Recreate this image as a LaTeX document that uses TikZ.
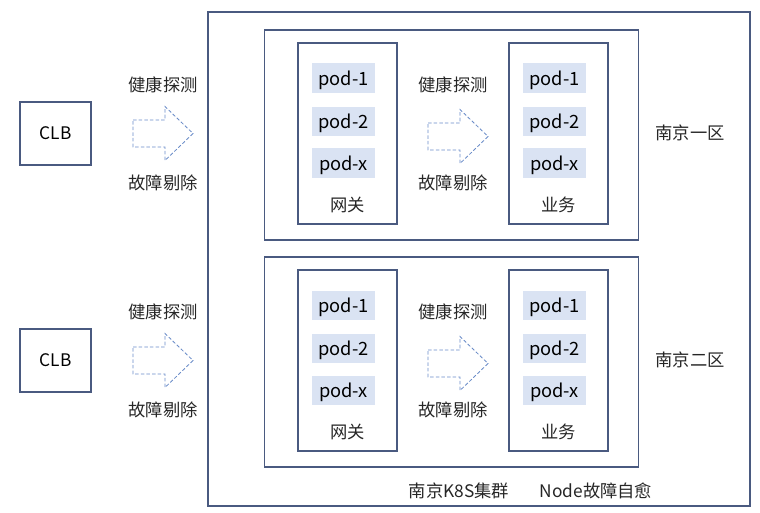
\documentclass[tikz,border=0pt]{standalone}
\usepackage{fontspec}
\setmainfont{Noto Sans CJK SC}
\usetikzlibrary{positioning}

\definecolor{boxline}{HTML}{4A5A80}
\definecolor{arrowline}{HTML}{6A8CC8}
\definecolor{podfill}{HTML}{DAE3F3}

\tikzset{
  frame/.style={draw=boxline, line width=0.9pt, inner sep=0pt},
  podbox/.style={fill=podfill, minimum width=1.575cm, minimum height=0.725cm, inner sep=0pt,
    text depth=0pt, font=\fontsize{13}{15}\selectfont},
  lbl/.style={inner sep=0pt, text=black!85},
  hollow arrow/.pic={
    \draw[arrowline, line width=0.6pt, dash pattern=on 2.5pt off 1.5pt, line join=miter]
      (0,-13.5) -- (32,-13.5) -- (32,-27) -- (60,0) -- (32,27) -- (32,13.5) -- (0,13.5) -- cycle;
  }
}

\begin{document}
\begin{tikzpicture}[x=0.025cm, y=-0.025cm, font=\fontsize{12.3}{14}\selectfont]
  \useasboundingbox (0,0) rectangle (760,512);

  % Cluster
  \node[frame, minimum width=13.55cm, minimum height=12.35cm] (cluster) at (479,259) {};

  % Two zones
  \foreach \r/\dy/\zone in {1/0/南京一区, 2/227/南京二区} {
    \begin{scope}[yshift=-\dy*0.025cm]
      \node[frame, minimum width=1.775cm, minimum height=1.575cm] (clb\r) at (55.5,133.5) {CLB};
      \node[frame, minimum width=9.35cm, minimum height=5.25cm] (zone\r) at (451.5,135) {};
      \node[lbl] (zname\r) at (690,133) {\zone};

      % Gateway and service boxes
      \node[frame, minimum width=2.475cm, minimum height=4.525cm] (gw\r) at (347.5,133.5) {};
      \node[frame, minimum width=2.475cm, minimum height=4.525cm] (svc\r) at (558.5,133.5) {};
      \foreach \p/\py in {1/78, 2/121.5, x/163} {
        \node[podbox] (gwpod\r\p) at (343.5,\py) {pod-\p};
        \node[podbox] (svcpod\r\p) at (554.5,\py) {pod-\p};
      }
      \node[lbl] (gwname\r) at (347.5,205) {网关};
      \node[lbl] (svcname\r) at (558.5,205) {业务};

      % Probe arrows
      \pic at (133,133.5) {hollow arrow};
      \pic at (428,136.5) {hollow arrow};
      \node[lbl] (chkl\r) at (163,85) {健康探测};
      \node[lbl] (rmvl\r) at (163,183) {故障剔除};
      \node[lbl] (chkm\r) at (453,85) {健康探测};
      \node[lbl] (rmvm\r) at (453,183) {故障剔除};
    \end{scope}
  }

  % Cluster labels
  \node[lbl] (k8s) at (459,491) {南京K8S集群};
  \node[lbl] (heal) at (596,491) {Node故障自愈};
\end{tikzpicture}
\end{document}
